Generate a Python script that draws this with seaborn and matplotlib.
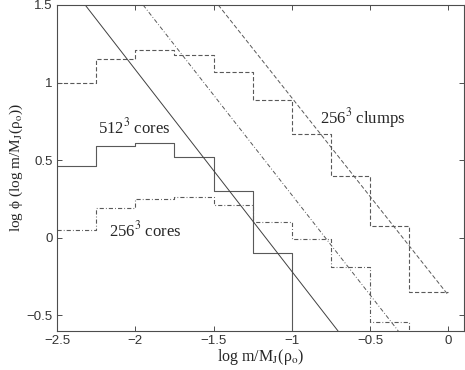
import numpy as np
import pandas as pd
import matplotlib
matplotlib.use("Agg")
import matplotlib.pyplot as plt
import seaborn as sns

# bin edges (log m/M_J) and histogram values (log phi)
bin_edges = [-2.5, -2.25, -2.0, -1.75, -1.5, -1.25, -1.0, -0.75, -0.5, -0.25, 0.0]
cores512 = [0.46, 0.59, 0.61, 0.52, 0.30, -0.10]
cores256 = [0.05, 0.19, 0.25, 0.26, 0.21, 0.10, -0.01, -0.19, -0.54]
clumps256 = [1.00, 1.15, 1.21, 1.18, 1.07, 0.885, 0.667, 0.40, 0.077, -0.35]

# reference slopes (two end points each)
solid_fit_x, solid_fit_y = [-2.32, -0.705], [1.5, -0.6]
dashdot_fit_x, dashdot_fit_y = [-1.95, -0.32], [1.5, -0.6]
dashed_fit_x, dashed_fit_y = [-1.47, 0.0], [1.5, -0.37]

XLIM = (-2.5, 0.1)
YLIM = (-0.6, 1.5)

sns.set_style("ticks")
plt.rcParams["font.family"] = ["Liberation Sans", "DejaVu Sans"]
plt.rcParams["mathtext.fontset"] = "stix"
plt.rcParams["lines.scale_dashes"] = False


def step_frame(vals, drop=False):
    xs = list(bin_edges[:len(vals) + 1])
    ys = list(vals) + [vals[-1]]
    if drop:
        xs.append(xs[-1])
        ys.append(YLIM[0])
    return pd.DataFrame({"x": xs, "y": ys})


fig = plt.figure(figsize=(4.65, 3.70), dpi=100)
ax = fig.add_axes([0.1226, 0.1054, 0.8754, 0.8811])

col = "0.35"
lw = 0.8
dash = (0, (3.0, 1.6))
dashdot = (0, (3.0, 1.5, 0.6, 1.5))

sns.lineplot(data=step_frame(cores512, drop=True), x="x", y="y", ax=ax,
             drawstyle="steps-post", estimator=None, sort=False,
             color=col, lw=lw, linestyle="-")
sns.lineplot(data=step_frame(cores256, drop=True), x="x", y="y", ax=ax,
             drawstyle="steps-post", estimator=None, sort=False,
             color=col, lw=lw, linestyle=dashdot)
sns.lineplot(data=step_frame(clumps256), x="x", y="y", ax=ax,
             drawstyle="steps-post", estimator=None, sort=False,
             color=col, lw=lw, linestyle=dash)

sns.lineplot(x=solid_fit_x, y=solid_fit_y, ax=ax, color="0.25", lw=0.7,
             estimator=None, sort=False)
sns.lineplot(x=dashdot_fit_x, y=dashdot_fit_y, ax=ax, color=col, lw=0.7,
             linestyle=dashdot, estimator=None, sort=False)
sns.lineplot(x=dashed_fit_x, y=dashed_fit_y, ax=ax, color=col, lw=0.7,
             linestyle=dash, estimator=None, sort=False)

serif = ["Liberation Serif", "DejaVu Serif"]
ax.text(-2.24, 0.71, r"512$^3$ cores", family=serif, fontsize=12, va="center")
ax.text(-0.82, 0.775, r"256$^3$ clumps", family=serif, fontsize=12, va="center")
ax.text(-2.17, 0.05, r"256$^3$ cores", family=serif, fontsize=12, va="center")

ax.set_xlim(*XLIM)
ax.set_ylim(*YLIM)
ax.set_xticks([-2.5, -2, -1.5, -1, -0.5, 0])
ax.set_xticklabels(["\u22122.5", "\u22122", "\u22121.5", "\u22121", "\u22120.5", "0"])
ax.set_yticks([-0.5, 0, 0.5, 1, 1.5])
ax.set_yticklabels(["\u22120.5", "0", "0.5", "1", "1.5"])
ax.tick_params(direction="in", length=3.5, width=0.6, labelsize=9.5,
               top=True, right=True, colors="0.2", pad=3)
for s in ax.spines.values():
    s.set_linewidth(0.8)
    s.set_color("0.3")

ax.set_xlabel("log m/M$_\\mathrm{J}$(\u03c1$_\\mathrm{o}$)", family=serif,
              fontsize=11.5, labelpad=0)
ax.set_ylabel("log \u03d5 (log m/M$_\\mathrm{J}$(\u03c1$_\\mathrm{o}$))",
              family=serif, fontsize=11, labelpad=1)

fig.savefig("out.png", dpi=100)
